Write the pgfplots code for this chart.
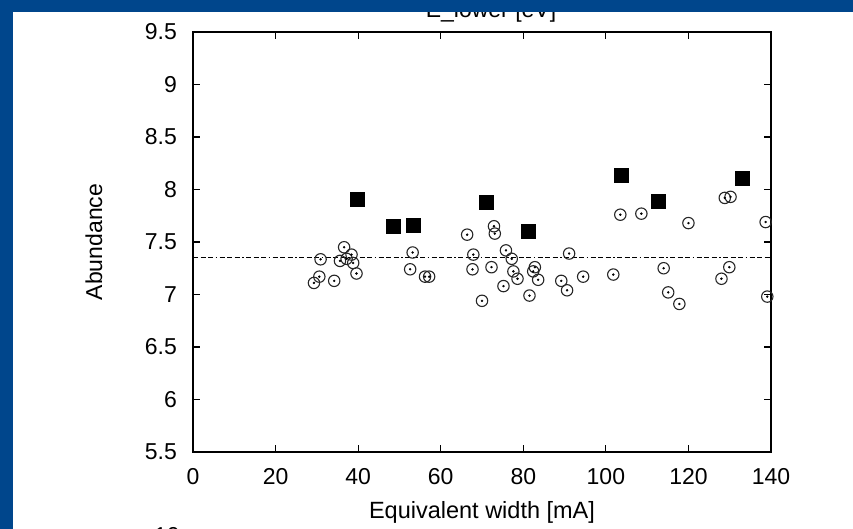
\documentclass[border=0pt]{standalone}
\usepackage{fontspec}
\setmainfont{Liberation Sans}
\usepackage{pgfplots}
\usepackage{pgfplotstable}
\pgfplotsset{compat=1.18}
\definecolor{bgblue}{RGB}{0,70,140}
\pgfplotstableread{
x y
39.7 7.91
48.6 7.65
53.4 7.66
71.0 7.88
81.2 7.60
103.8 8.14
112.7 7.89
133.1 8.11
}\squares
\pgfplotstableread{
x y
29.3 7.11
30.6 7.17
30.9 7.335
34.2 7.13
35.6 7.32
36.6 7.45
37.2 7.34
38.4 7.38
38.8 7.30
39.6 7.20
52.6 7.24
53.2 7.40
56.2 7.17
57.2 7.17
66.4 7.57
67.7 7.24
67.9 7.38
70.0 6.94
72.3 7.26
72.9 7.65
73.1 7.58
75.2 7.08
75.8 7.42
77.2 7.34
77.6 7.22
78.6 7.15
81.5 6.99
82.4 7.22
82.8 7.26
83.6 7.14
89.2 7.13
90.6 7.04
91.1 7.39
94.5 7.17
101.8 7.19
103.5 7.76
108.6 7.77
114.0 7.25
115.1 7.02
117.8 6.91
120.0 7.68
128.0 7.15
128.8 7.92
129.9 7.26
130.2 7.93
138.7 7.69
139.1 6.98
}\circles
\begin{document}
\begin{tikzpicture}[x=1pt,y=1pt]
\useasboundingbox (0,0) rectangle (853,529);
\fill[bgblue] (0,0) rectangle (853,529);
\fill[white] (13,0) rectangle (853,517);
\begin{axis}[
  at={(193pt,77pt)}, anchor=south west,
  scale only axis, width=578pt, height=420pt,
  xmin=0, xmax=140, ymin=5.5, ymax=9.5,
  xtick={0,20,40,60,80,100,120,140},
  ytick={5.5,6,6.5,7,7.5,8,8.5,9,9.5},
  /pgf/number format/assume math mode=true,
  tick label style={font=\fontsize{23}{27}\selectfont, inner sep=0pt},
  xticklabel style={yshift=-16pt},
  yticklabel style={xshift=-16pt},
  major tick length=7pt,
  major tick style={line width=1.2pt, black},
  axis line style={line width=1.5pt, black},
  xlabel={Equivalent width [mA]},
  xlabel style={at={(axis description cs:0.5,0)}, anchor=base, yshift=-67pt, inner sep=0pt, font=\fontsize{23.5}{27}\selectfont},
  ylabel={Abundance},
  ylabel style={at={(axis description cs:-0.1713,0.5)}, anchor=center, inner sep=0pt, font=\fontsize{23}{27}\selectfont},
  every axis title shift=0pt,
  title={E\_lower [eV]},
  title style={at={(axis description cs:0.5,1)}, anchor=base, yshift=14.5pt, xshift=9pt, inner sep=0pt, font=\fontsize{23}{27}\selectfont},
]
\addplot[black, line width=1.2pt, dash pattern=on 5pt off 2.5pt on 5pt off 2.5pt on 5pt off 2.5pt on 1.5pt off 2.5pt] coordinates {(0,7.355) (140,7.355)};
\addplot[only marks, mark=o, mark size=5.7pt, mark options={line width=1.1pt, draw=black!85}] table {\circles};
\addplot[only marks, mark=*, mark size=1pt, mark options={fill=black, draw=black}] table {\circles};
\addplot[only marks, mark=square*, mark size=7pt, mark options={fill=black, draw=black}] table {\squares};
\end{axis}
\node[font=\fontsize{23}{27}\selectfont, anchor=north, inner sep=0pt] at (167,2) {10};
\fill[bgblue] (0,517) rectangle (853,529);
\fill[bgblue] (0,0) rectangle (13,529);
\end{tikzpicture}
\end{document}
